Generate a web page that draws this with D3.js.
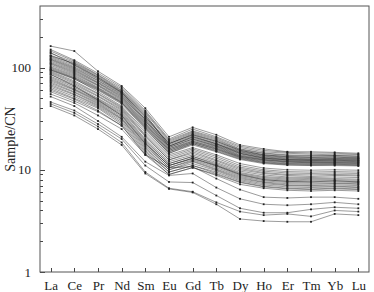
<!DOCTYPE html>
<html lang="en">
<head>
  <meta charset="UTF-8">
  <title>REE chondrite-normalised pattern</title>
  <style>
      body { margin: 0; background: #fff; }
      .frame { fill: none; stroke: #555; stroke-width: 1px; }
      .axis text { font-family: "Liberation Serif", serif; font-size: 13px; fill: #222; }
      .axis line { stroke: #444; shape-rendering: crispEdges; }
      .axis path { display: none; }
      .sample { fill: none; stroke: #222; stroke-width: 0.5px; stroke-opacity: 0.9; }
      .mark { fill: #222; }
  </style>
</head>
<body>
<div id="chart"></div>
<script src="https://d3js.org/d3.v7.min.js"></script>
<script>
  const elements = ["La", "Ce", "Pr", "Nd", "Sm", "Eu", "Gd", "Tb", "Dy", "Ho", "Er", "Tm", "Yb", "Lu"];
  const majorTicks = [1, 10, 100];
  const minorTicks = [2, 3, 4, 5, 6, 7, 8, 9, 20, 30, 40, 50, 60, 70, 80, 90, 200, 300];

  // upper cluster
  const highSamples = [
    [162, 145, 92, 66, 40, 21, 26, 22, 17.5, 16, 15, 15, 14.8, 14.5],
    [150, 118, 88, 64, 38, 20, 25, 21, 17, 15.5, 14.8, 14.6, 14.5, 14.2],
    [145, 115, 85, 62, 37, 19.5, 24, 20.5, 16.5, 15, 14.5, 14.2, 14, 14],
    [140, 106, 80, 57, 33, 18, 22.5, 19, 15.5, 14, 13.4, 13.2, 13.3, 13],
    [138, 112, 84, 60, 36, 19, 23.5, 20, 16, 14.6, 14, 13.8, 13.8, 13.6],
    [132, 108, 80, 58, 34, 18.5, 23, 19.5, 15.8, 14.4, 13.8, 13.6, 13.7, 13.5],
    [130, 110, 82, 59, 35, 17, 21, 18, 14.5, 13, 12.5, 12.4, 12.5, 12.4],
    [128, 105, 78, 57, 33, 18, 22, 19, 15.5, 14, 13.5, 13.3, 13.4, 13.2],
    [125, 102, 77, 56, 32, 18, 22, 18.5, 15.2, 13.8, 13.2, 13, 13, 13],
    [122, 100, 75, 55, 31, 17.5, 21.5, 18, 15, 13.6, 13, 12.8, 12.9, 12.8],
    [120, 98, 74, 54, 31, 17, 21, 17.8, 14.8, 13.4, 12.8, 12.6, 12.7, 12.6],
    [118, 96, 72, 53, 30, 17, 20.5, 17.5, 14.5, 13.2, 12.6, 12.5, 12.5, 12.4],
    [115, 94, 71, 52, 30, 16.5, 20, 17.2, 14.3, 13, 12.5, 12.3, 12.4, 12.2],
    [112, 92, 70, 51, 29, 16.5, 20, 17, 14, 12.8, 12.3, 12.1, 12.2, 12],
    [110, 90, 68, 50, 28.5, 16, 19.5, 16.8, 13.8, 12.6, 12.1, 12, 12, 11.9],
    [108, 88, 67, 49, 28, 16, 19, 16.5, 13.6, 12.5, 12, 11.8, 11.9, 11.8],
    [105, 86, 66, 48, 27.5, 15.5, 19, 16.2, 13.5, 12.4, 11.9, 11.7, 11.8, 11.6],
    [102, 84, 64, 47, 27, 15.5, 18.5, 16, 13.3, 12.2, 11.7, 11.6, 11.6, 11.5],
    [100, 82, 63, 46, 26.5, 15, 18.5, 15.8, 13.2, 12, 11.5, 11.4, 11.5, 11.3],
    [98, 80, 62, 45.5, 26, 15, 18, 15.5, 13, 11.8, 11.4, 11.3, 11.3, 11.2],
    [96, 79, 61, 45, 25.5, 14.5, 18, 15.2, 12.8, 11.7, 11.2, 11.1, 11.2, 11],
    [94, 77, 60, 44, 25, 14.5, 17.5, 15, 12.6, 11.5, 11.1, 11, 11, 10.9]
  ];

  // middle cluster
  const midSamples = [
    [95, 78, 58, 42, 24, 14, 16.5, 14, 11.5, 10.4, 10, 9.9, 10, 9.9],
    [92, 74, 56, 41, 23, 13.5, 16, 13.5, 11, 10, 9.6, 9.5, 9.6, 9.5],
    [90, 72, 55, 40, 22, 13, 15.5, 13, 10.6, 9.7, 9.3, 9.2, 9.3, 9.2],
    [88, 70, 53, 39, 21.5, 12.5, 15, 12.5, 10.3, 9.4, 9, 8.9, 9, 8.9],
    [86, 66, 48, 34, 18, 11, 13, 11, 9, 8, 7.7, 7.6, 7.8, 7.6],
    [85, 68, 52, 38, 21, 12.5, 14.5, 12.2, 10, 9.2, 8.8, 8.6, 8.8, 8.7],
    [82, 66, 50, 37, 20, 12, 14, 11.8, 9.7, 8.9, 8.5, 8.4, 8.5, 8.4],
    [80, 64, 49, 36, 19.5, 11.5, 13.5, 11.5, 9.4, 8.6, 8.3, 8.2, 8.2, 8.1],
    [78, 62, 48, 35, 19, 11.5, 13.5, 11.2, 9.2, 8.4, 8.1, 8, 8, 7.9],
    [76, 61, 47, 34, 18.5, 11, 13, 11, 9, 8.2, 7.9, 7.8, 7.8, 7.7],
    [74, 60, 46, 33, 18, 11, 12.8, 10.8, 8.8, 8, 7.7, 7.6, 7.6, 7.5],
    [72, 58, 45, 32, 17.5, 10.5, 12.5, 10.5, 8.6, 7.8, 7.5, 7.4, 7.4, 7.3],
    [70, 57, 44, 31.5, 17, 10.5, 12.2, 10.2, 8.4, 7.6, 7.3, 7.2, 7.3, 7.2],
    [68, 55, 43, 31, 16.5, 10, 12, 10, 8.2, 7.5, 7.1, 7, 7.1, 7],
    [66, 54, 42, 30, 16, 10, 11.5, 9.8, 8, 7.3, 7, 6.9, 6.9, 6.8],
    [64, 52, 41, 29, 15.5, 9.5, 11, 9.5, 7.8, 7.1, 6.8, 6.7, 6.8, 6.7],
    [62, 50, 40, 28, 15, 9.5, 11, 9.2, 7.6, 6.9, 6.6, 6.5, 6.6, 6.5],
    [60, 49, 38, 27, 14.5, 9, 10.5, 9, 7.5, 6.8, 6.5, 6.4, 6.5, 6.4],
    [58, 47, 37, 27, 14, 9, 10.5, 8.8, 7.2, 6.6, 6.3, 6.2, 6.3, 6.2]
  ];

  // lowest samples
  const lowSamples = [
    [55, 45, 34, 25, 14, 10.5, 10.7, 8.2, 6.4, 5.4, 5.3, 5.4, 5.4, 5.2],
    [52, 42, 30, 21, 12, 8.8, 9.2, 6.7, 5.2, 4.6, 4.5, 4.6, 4.8, 4.6],
    [46, 38, 28, 20, 11, 7.6, 7.5, 5.6, 4.2, 3.8, 3.8, 4.1, 4.3, 4.2],
    [44, 36, 26.5, 18.5, 9.5, 6.6, 6.1, 4.8, 3.9, 3.6, 3.7, 3.5, 4, 3.9],
    [42, 34, 25, 17.5, 9.2, 6.5, 6, 4.6, 3.3, 3.15, 3.1, 3.1, 3.7, 3.6]
  ];

  const samples = highSamples.concat(midSamples, lowSamples);

  const W = 374, H = 292;
  const margin = {top: 6, right: 5, bottom: 20, left: 40};
  const width = W - margin.left - margin.right,
        height = H - margin.top - margin.bottom;

  const svg = d3.select("#chart").append("svg")
    .attr("width", W)
    .attr("height", H)
    .append("g")
    .attr("transform", `translate(${margin.left},${margin.top})`);

  const x = d3.scaleLinear()
    .domain([-0.45, elements.length - 1 + 0.45])
    .range([0, width]);

  const y = d3.scaleLog()
    .domain([1, 400])
    .range([height, 0]);

  // minor ticks on the log axis
  svg.append("g")
    .attr("class", "axis")
    .call(d3.axisLeft(y).tickValues(minorTicks).tickSize(-2.5).tickFormat(""));

  svg.append("g")
    .attr("class", "axis")
    .call(d3.axisLeft(y).tickValues(majorTicks).tickSize(-5).tickPadding(9).tickFormat(d3.format("d")))
    .attr("font-family", "Liberation Serif, serif")
    .attr("font-size", 13);

  svg.append("g")
    .attr("class", "axis")
    .attr("transform", `translate(0,${height})`)
    .call(d3.axisBottom(x)
      .tickValues(d3.range(elements.length))
      .tickSize(-4)
      .tickPadding(9)
      .tickFormat(i => elements[i]))
    .attr("font-family", "Liberation Serif, serif")
    .attr("font-size", 13);

  const line = d3.line()
    .x((d, i) => x(i))
    .y(d => y(d));

  const g = svg.append("g");

  g.selectAll(".sample")
    .data(samples)
    .enter().append("path")
    .attr("class", "sample")
    .attr("d", line);

  g.selectAll(".marks")
    .data(samples)
    .enter().append("g")
    .selectAll("rect")
    .data(d => d)
    .enter().append("rect")
    .attr("class", "mark")
    .attr("x", (d, i) => x(i) - 0.9)
    .attr("y", d => y(d) - 0.9)
    .attr("width", 1.8)
    .attr("height", 1.8);

  svg.append("rect")
    .attr("class", "frame")
    .attr("x", 0)
    .attr("y", 0)
    .attr("width", width)
    .attr("height", height);

  svg.append("text")
    .attr("transform", "rotate(-90)")
    .attr("x", -height / 2)
    .attr("y", -margin.left + 15)
    .attr("text-anchor", "middle")
    .style("font-family", "Liberation Serif, serif")
    .style("font-size", "14px")
    .style("fill", "#222")
    .text("Sample/CN");
</script>
</body>
</html>
